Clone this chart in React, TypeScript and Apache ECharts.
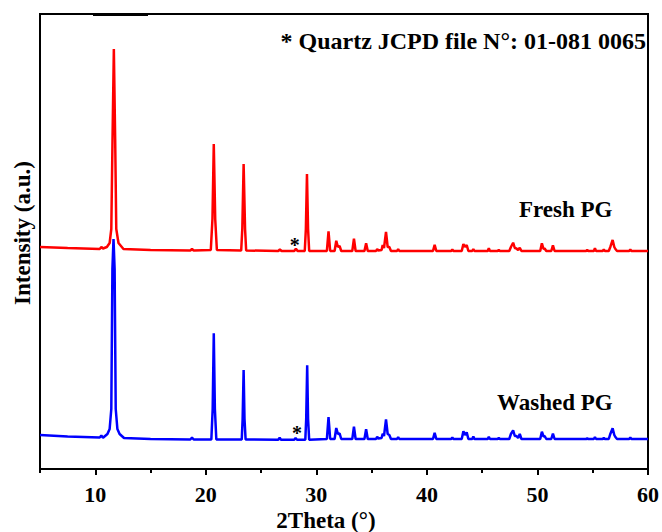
import React, { useEffect, useRef } from "react";
import * as echarts from "echarts";

// 2Theta (deg) vs intensity (a.u., offset patterns as plotted)
const freshPG: [number, number][] = [
  [5.0, 222], [7.5, 221], [10.4, 220], [10.55, 222], [10.7, 220.5], [11.05, 222], [11.3, 226], [11.45, 240],
  [11.56, 330], [11.68, 420], [11.8, 330], [11.9, 240], [12.1, 226], [12.55, 220], [15, 219],
  [18.6, 218.5], [18.75, 220], [18.9, 218.5], [20.45, 219], [20.6, 250], [20.72, 325], [20.85, 250], [21.0, 219],
  [23.2, 218.5], [23.3, 240], [23.42, 305], [23.55, 240], [23.65, 218.5], [26.55, 218], [26.7, 219.5], [26.85, 218],
  [28.0, 218], [28.15, 220.3], [28.3, 218], [28.95, 218], [29.05, 240], [29.15, 295], [29.25, 240], [29.35, 218],
  [30.95, 218], [31.1, 237.7], [31.25, 218], [31.65, 218], [31.8, 228.3], [31.95, 222], [32.1, 223], [32.25, 218],
  [33.25, 218], [33.4, 230.3], [33.55, 218], [34.35, 218], [34.5, 225.7], [34.65, 218], [35.4, 218], [35.5, 220],
  [35.6, 218.5], [35.9, 219], [36.0, 224], [36.12, 221], [36.3, 237], [36.45, 222], [36.6, 222], [36.75, 218],
  [37.3, 218], [37.4, 220], [37.5, 218], [40.55, 218], [40.7, 224.3], [40.85, 218], [42.2, 218], [42.3, 219.5],
  [42.4, 218], [43.15, 218], [43.3, 225], [43.45, 222], [43.6, 224], [43.75, 218], [44.1, 218], [44.2, 220],
  [44.3, 218], [45.5, 218], [45.6, 220.7], [45.7, 218], [46.4, 218], [46.5, 219], [46.6, 218], [47.45, 218],
  [47.6, 222], [47.8, 226.3], [47.95, 221], [48.1, 220.5], [48.25, 219], [48.4, 221.3], [48.55, 218],
  [50.25, 218], [50.4, 225.7], [50.55, 220], [50.65, 220.5], [50.8, 218], [51.25, 218], [51.4, 223.7], [51.55, 218],
  [54.4, 218], [54.5, 219], [54.6, 218], [55.1, 218], [55.2, 220.7], [55.3, 218], [55.9, 218], [56.0, 219.5],
  [56.1, 218], [56.45, 218], [56.6, 222.3], [56.8, 229], [56.95, 222], [57.05, 220], [57.2, 218],
  [58.3, 218], [58.4, 219.5], [58.5, 218], [60, 218],
];

const washedPG: [number, number][] = [
  [5.0, 34], [7.5, 32.5], [10.4, 31.5], [10.55, 33.5], [10.7, 31.3], [11.1, 35], [11.3, 40], [11.45, 60],
  [11.55, 200], [11.65, 230], [11.75, 200], [11.85, 60], [12.0, 40], [12.2, 35], [12.6, 31], [15, 30],
  [18.6, 29.5], [18.75, 31.3], [18.9, 29.5], [20.5, 29.5], [20.62, 60], [20.72, 135.7], [20.82, 60], [20.95, 29.5],
  [23.25, 29.5], [23.33, 50], [23.42, 99], [23.5, 50], [23.6, 29.5], [26.55, 29.3], [26.68, 31.3], [26.8, 29.3],
  [28.0, 29.3], [28.12, 31], [28.25, 29.3], [29.0, 29.3], [29.08, 50], [29.17, 103.7], [29.25, 50], [29.35, 29.3],
  [30.95, 30], [31.1, 52], [31.25, 30], [31.65, 30], [31.8, 41], [31.95, 35], [32.1, 35.7], [32.25, 30],
  [33.25, 30], [33.4, 42.3], [33.55, 30], [34.35, 30], [34.5, 39.7], [34.65, 30], [35.4, 30], [35.5, 32.3],
  [35.6, 30.5], [35.9, 31], [36.0, 35.3], [36.12, 33], [36.3, 49.7], [36.45, 35], [36.6, 34], [36.75, 30],
  [37.3, 30], [37.4, 32], [37.5, 30], [40.55, 30], [40.7, 36.3], [40.85, 30], [42.2, 30], [42.3, 31.5], [42.4, 30],
  [43.15, 30], [43.3, 37.7], [43.45, 34], [43.6, 36.7], [43.75, 30], [44.1, 30], [44.2, 32.5], [44.3, 30],
  [45.5, 30], [45.6, 32.3], [45.7, 30], [46.4, 30], [46.5, 31], [46.6, 30], [47.45, 30], [47.6, 35],
  [47.8, 38.7], [47.95, 33], [48.1, 33], [48.25, 31], [48.4, 35], [48.55, 30], [50.25, 30], [50.4, 37.3],
  [50.55, 32.5], [50.65, 33], [50.8, 30], [51.25, 30], [51.4, 35.3], [51.55, 30], [54.4, 30], [54.5, 30.5],
  [54.6, 30], [55.1, 30], [55.2, 32], [55.3, 30], [55.9, 30], [56.0, 31], [56.1, 30], [56.45, 30],
  [56.6, 35.3], [56.8, 40.7], [56.95, 34], [57.05, 32], [57.2, 30], [58.3, 30], [58.4, 31.5], [58.5, 30], [60, 30],
];

const majorTicks = [10, 20, 30, 40, 50, 60];
const minorTicks = [5, 15, 25, 35, 45, 55];
const quartzMarks = { fresh: [28.05, 227], washed: [28.25, 39] };

const FONT = "'Liberation Serif', 'Times New Roman', serif";

export default function App() {
  const ref = useRef<HTMLDivElement>(null);
  useEffect(() => {
    if (!ref.current) return;
    const chart = echarts.init(ref.current, null, { renderer: "svg" });
    const starMark = (coord: number[]) => ({
      symbol: "circle",
      symbolSize: 1,
      silent: true,
      itemStyle: { color: "rgba(0,0,0,0)" },
      label: {
        show: true,
        position: "inside",
        formatter: "*",
        fontFamily: FONT,
        fontWeight: "bold",
        fontSize: 20,
        color: "#000",
        offset: [0, 3],
      },
      data: [{ coord }],
    });
    chart.setOption({
      animation: false,
      grid: {
        left: 40,
        right: 11,
        top: 14,
        bottom: 63,
        containLabel: false,
        show: true,
        borderColor: "#000",
        borderWidth: 2,
      },
      xAxis: [
        {
          type: "value",
          min: 5,
          max: 60,
          splitLine: { show: false },
          axisLine: { show: true, lineStyle: { color: "#000", width: 2 } },
          axisTick: { show: true, customValues: majorTicks, length: 6, inside: false, lineStyle: { color: "#000", width: 2 } },
          axisLabel: {
            customValues: majorTicks,
            fontFamily: FONT,
            fontWeight: "bold",
            fontSize: 22,
            color: "#000",
            margin: 14,
          },
        },
        {
          type: "value",
          min: 5,
          max: 60,
          position: "bottom",
          splitLine: { show: false },
          axisLine: { show: false },
          axisTick: { show: true, customValues: minorTicks, length: 4, inside: false, lineStyle: { color: "#000", width: 2 } },
          axisLabel: { show: false },
        },
      ],
      yAxis: {
        type: "value",
        min: 0,
        max: 455,
        splitLine: { show: false },
        axisLine: { show: true, lineStyle: { color: "#000", width: 2 } },
        axisTick: { show: false },
        axisLabel: { show: false },
      },
      series: [
        {
          name: "Washed PG",
          type: "line",
          data: washedPG,
          showSymbol: false,
          symbol: "none",
          lineStyle: { color: "#0000ff", width: 2.5 },
          markPoint: starMark(quartzMarks.washed),
          z: 2,
        },
        {
          name: "Fresh PG",
          type: "line",
          data: freshPG,
          showSymbol: false,
          symbol: "none",
          lineStyle: { color: "#ff0000", width: 2.5 },
          markPoint: starMark(quartzMarks.fresh),
          z: 3,
        },
      ],
      graphic: [
        { type: "rect", shape: { x: 93, y: 13, width: 55, height: 3 }, style: { fill: "#000" }, z: 100 },
        {
          type: "text",
          right: 16,
          top: 29,
          style: { text: "* Quartz JCPD file N°: 01-081 0065", font: `bold 24px ${FONT}`, fill: "#000" },
        },
        {
          type: "text",
          x: 519,
          y: 198,
          style: { text: "Fresh PG", font: `bold 23px ${FONT}`, fill: "#000" },
        },
        {
          type: "text",
          x: 497,
          y: 391,
          style: { text: "Washed PG", font: `bold 23px ${FONT}`, fill: "#000" },
        },
        {
          type: "text",
          x: 326,
          y: 520,
          style: { text: "2Theta (°)", font: `bold 23px ${FONT}`, fill: "#000", align: "center", verticalAlign: "middle" },
        },
        {
          type: "text",
          x: 22,
          y: 233,
          rotation: Math.PI / 2,
          style: { text: "Intensity (a.u.)", font: `bold 23px ${FONT}`, fill: "#000", align: "center", verticalAlign: "middle" },
        },
      ],
    });
    return () => chart.dispose();
  }, []);
  return <div ref={ref} style={{ width: 662, height: 532, position: "absolute", left: 0, top: 0 }} />;
}
